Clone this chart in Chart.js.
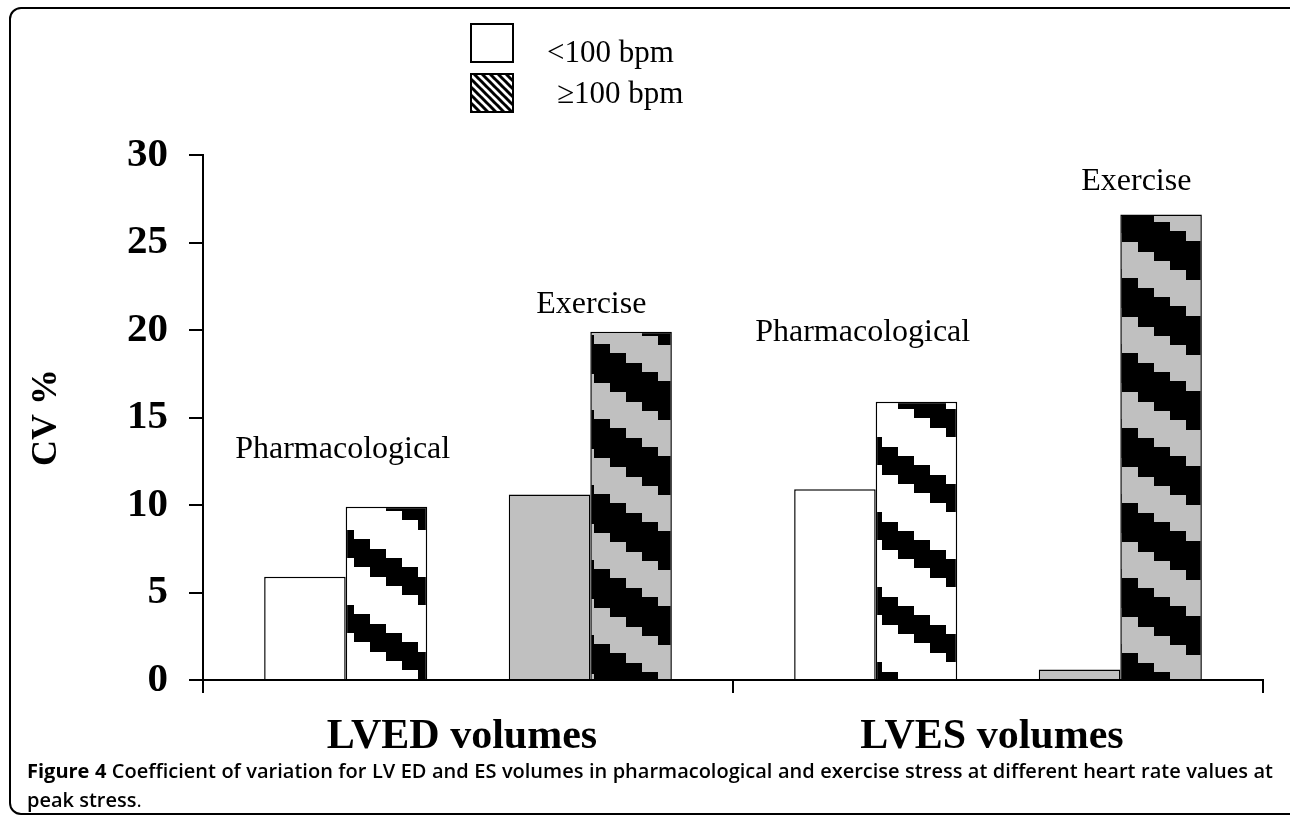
<!DOCTYPE html>
<html>
<head>
<meta charset="utf-8">
<script src="https://cdn.jsdelivr.net/npm/chart.js@4/dist/chart.umd.min.js"></script>
<style>
  html, body { margin: 0; padding: 0; background: #fff; }
  body { width: 1290px; height: 818px; overflow: hidden; position: relative; }
  #frame { position: absolute; left: 9px; top: 7px; width: 1300px; height: 808px;
           border: 2px solid #000; border-radius: 12px; box-sizing: border-box; }
  #wrap { position: absolute; left: 0; top: 0; width: 1290px; height: 760px; }
  #caption { position: absolute; left: 27px; top: 756px; width: 1246px;
             font-family: "Open Sans", sans-serif; font-weight: 600; font-size: 20px;
             line-height: 29px; text-align: justify; color: #000; }
  #caption b { font-weight: 700; }
  #caption .p { font-weight: 400; }
</style>
</head>
<body>
<div id="frame"></div>
<div id="wrap"><canvas id="c" width="1290" height="760"></canvas></div>
<div id="caption"><b>Figure 4</b> Coefficient of variation for LV ED and ES volumes in pharmacological and exercise stress at different heart rate values at peak stress<span class="p">.</span></div>
<script>
// ---- data ----
const categories = ['LVED volumes', 'LVES volumes'];
const pharmLow  = [5.9, 10.9];   // Pharmacological, <100 bpm
const pharmHigh = [9.9, 15.9];   // Pharmacological, >=100 bpm
const exLow     = [10.6, 0.6];   // Exercise, <100 bpm
const exHigh    = [19.9, 26.6];  // Exercise, >=100 bpm
const yTicks    = [0, 5, 10, 15, 20, 25, 30];
const legendLabels = ['<100 bpm', '\u2265100 bpm'];
const groupLabels = ['Pharmacological', 'Exercise'];
const groupLabelY = [[12.7, 21.0], [19.4, 28.0]]; // baseline, [category][group], CV % units

// ---- patterns ----
function stepPattern(bg, fg, thick, dy) {
  const c = document.createElement('canvas');
  c.width = 128; c.height = 75;
  const g = c.getContext('2d');
  g.fillStyle = bg; g.fillRect(0, 0, 128, 75);
  g.fillStyle = fg;
  for (let k = -2; k <= 1; k++) {
    for (let i = 0; i < 8; i++) {
      const y = Math.round(k * 75 + i * 9.375);
      g.fillRect(i * 16, y, 16, thick);
    }
  }
  const p = g.createPattern(c, 'repeat');
  p.setTransform(new DOMMatrix([1, 0, 0, 1, 2, dy]));
  return p;
}
function finePattern() {
  const c = document.createElement('canvas');
  c.width = 8; c.height = 8;
  const g = c.getContext('2d');
  g.fillStyle = '#fff'; g.fillRect(0, 0, 8, 8);
  g.strokeStyle = '#000'; g.lineWidth = 3;
  for (let o = -8; o <= 8; o += 8) {
    g.beginPath(); g.moveTo(o - 1, -1); g.lineTo(o + 9, 9); g.stroke();
  }
  return g.createPattern(c, 'repeat');
}
const hatchWhite = [stepPattern('#ffffff', '#000000', 28, 33), stepPattern('#ffffff', '#000000', 28, 6)];
const hatchGrey  = [stepPattern('#000000', '#c0c0c0', 36, 36), stepPattern('#000000', '#c0c0c0', 36, 36)];
const hatchFine  = finePattern();

const SERIF = '"Liberation Serif", "Times New Roman", serif';

const overlay = {
  id: 'overlay',
  afterDraw(chart) {
    const ctx = chart.ctx;
    ctx.save();
    // legend
    ctx.lineWidth = 2; ctx.strokeStyle = '#000';
    ctx.fillStyle = '#fff';
    ctx.fillRect(471, 24, 42, 38); ctx.strokeRect(471, 24, 42, 38);
    ctx.fillStyle = hatchFine;
    ctx.fillRect(471, 74, 42, 38); ctx.strokeRect(471, 74, 42, 38);
    ctx.fillStyle = '#000';
    ctx.font = '31px ' + SERIF;
    ctx.textBaseline = 'alphabetic'; ctx.textAlign = 'left';
    ctx.fillText(legendLabels[0], 547, 62);
    ctx.fillText(legendLabels[1], 557, 103);
    // group labels
    ctx.font = '32px ' + SERIF;
    const y = chart.scales.y;
    const pairs = [[0, 1], [3, 4]];
    const dx = [[-3, 1], [-13, 16]];
    for (let c = 0; c < categories.length; c++) {
      for (let gi = 0; gi < 2; gi++) {
        const a = chart.getDatasetMeta(pairs[gi][0]).data[c];
        const b = chart.getDatasetMeta(pairs[gi][1]).data[c];
        const cx = (a.x + b.x) / 2 + dx[c][gi];
        ctx.textAlign = 'center';
        ctx.fillText(groupLabels[gi], cx, y.getPixelForValue(groupLabelY[c][gi]));
      }
    }
    ctx.restore();
  }
};

new Chart(document.getElementById('c'), {
  type: 'bar',
  data: {
    labels: categories,
    datasets: [
      { label: 'Pharmacological <100 bpm', data: pharmLow, backgroundColor: '#ffffff' },
      { label: 'Pharmacological >=100 bpm', data: pharmHigh, backgroundColor: (c) => hatchWhite[c.dataIndex] },
      { label: '', data: [null, null], backgroundColor: 'rgba(0,0,0,0)' },
      { label: 'Exercise <100 bpm', data: exLow, backgroundColor: '#c0c0c0' },
      { label: 'Exercise >=100 bpm', data: exHigh, backgroundColor: (c) => hatchGrey[c.dataIndex] }
    ]
  },
  options: {
    responsive: false,
    animation: false,
    events: [],
    layout: { padding: { left: 0, right: 27, top: 155, bottom: 0 } },
    datasets: { bar: { borderColor: '#000', borderWidth: 1.5, categoryPercentage: 5 / 6.5, barPercentage: 1 } },
    plugins: { legend: { display: false }, tooltip: { enabled: false } },
    scales: {
      x: {
        afterFit(s) { s.height = 80; },
        border: { display: true, color: '#000', width: 2 },
        grid: { display: true, offset: true, drawOnChartArea: false, drawTicks: true, tickLength: 13, color: '#000', lineWidth: 2 },
        ticks: { color: '#000', padding: 19, labelOffset: -6, font: { family: SERIF, size: 42, weight: 'bold' } }
      },
      y: {
        min: 0, max: 30,
        afterFit(s) { s.width = 203; },
        afterBuildTicks(s) { s.ticks = yTicks.map(v => ({ value: v })); },
        border: { display: true, color: '#000', width: 2 },
        grid: { display: true, drawOnChartArea: false, drawTicks: true, tickLength: 14, color: '#000', lineWidth: 2 },
        ticks: { color: '#000', padding: 21, font: { family: SERIF, size: 41, weight: 'bold' } },
        title: { display: true, text: 'CV %', color: '#000', padding: { top: 25, bottom: 0 }, font: { family: SERIF, size: 36, weight: 'bold' } }
      }
    }
  },
  plugins: [overlay]
});
</script>
</body>
</html>
